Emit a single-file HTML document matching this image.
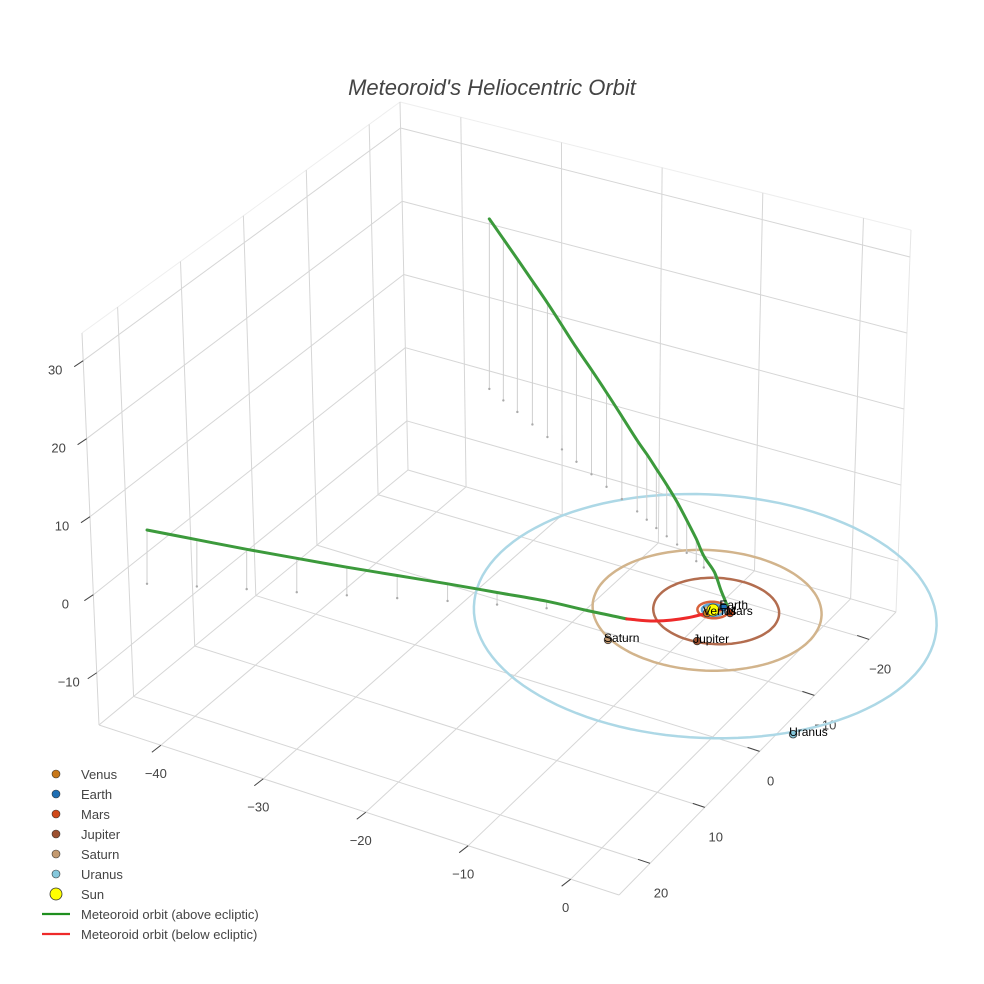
<!DOCTYPE html>
<html><head><meta charset="utf-8">
<style>
html,body{margin:0;padding:0;background:#fff;}
svg{display:block;font-family:"Liberation Sans",Arial,sans-serif;}
</style></head>
<body>
<svg id="chart" width="984" height="984" viewBox="0 0 984 984" xmlns="http://www.w3.org/2000/svg">
<rect width="984" height="984" fill="#fff"/>
<text x="492" y="95" text-anchor="middle" font-size="22" font-style="italic" fill="#444">Meteoroid's Heliocentric Orbit</text>
<g id="grid"></g>
<g id="ticks"></g>
<g id="orbits"></g>
<g id="drops"></g>
<g id="meteor"></g>
<g id="planets"></g>
<g id="legend"></g>
</svg>
<script>
// ---- data ----
const xTicks = [-40, -30, -20, -10, 0];
const yTicks = [-20, -10, 0, 10, 20];
const zTicks = [30, 20, 10, 0, -10];
const xTickLabels = ["\u221240", "\u221230", "\u221220", "\u221210", "0"];
const yTickLabels = ["\u221220", "\u221210", "0", "10", "20"];
const zTickLabels = ["30", "20", "10", "0", "\u221210"];

const planetNames = ["Venus", "Earth", "Mars", "Jupiter", "Saturn", "Uranus"];
const planetX = [-0.2, 0.53, 1.44, 1.16, -5.27, 14.9];
const planetY = [0.69, -0.85, -0.32, 5.04, 8.77, 13.9];
const planetZ = [0, 0, 0, 0, 0, 0];
const orbitRadii = [0.65, 0.92, 1.3, 5.25, 9.55, 19.3];
const orbitCenterX = [0, 0, 0, 0.3, -0.4, -0.1];
const orbitCenterY = [0, 0, 0, 0, 0.3, 1.2];

const sunX = [0], sunY = [0], sunZ = [0];

const aboveX = [-32.3, -30.45, -28.6, -26.6, -24.6, -22.65, -20.7, -18.7, -16.7, -14.7, -12.7, -11.4, -10.1, -8.75, -7.4, -6.1, -4.8, -3.8, -2.3, -0.6, 0.9];
const aboveY = [-21.2, -20.2, -19.2, -18.1, -17.0, -15.9, -14.8, -13.7, -12.6, -11.55, -10.5, -9.75, -9.0, -8.3, -7.6, -6.85, -6.1, -5.55, -4.6, -2.6, -1.0];
const aboveZ = [21.8, 20.7, 19.6, 18.4, 17.2, 15.9, 14.6, 13.4, 12.1, 10.6, 9.1, 8.4, 7.6, 6.6, 5.46, 4.2, 2.86, 1.47, 0.7, 0.4, 0];

const belowX = [0.9, -1.5, -3.5, -5.5];
const belowY = [-1.0, 1.8, 3.6, 5.0];
const belowZ = [0, -0.4, -0.4, 0];

const leftX = [-5.5, -8.75, -12.0, -15.8, -19.6, -23.4, -27.2, -31.0, -34.8, -38.55, -42.3];
const leftY = [5.0, 6.0, 7.0, 8.65, 10.3, 12.1, 13.9, 15.65, 17.4, 19.2, 21.0];
const leftZ = [0, 0.4, 0.9, 1.55, 2.2, 2.9, 3.6, 4.35, 5.1, 6.0, 6.9];

// ---- projection ----
const NS = "http://www.w3.org/2000/svg";
function P(x, y, z) { return [713 + 10.6 * x - 5.6 * y, 610 + 3.3 * x + 5.4 * y - 7.8 * z]; }
const XMIN = -46.04, XR = 50.76, YMIN = -24.9, YR = 50.56, ZMIN = -16.7, ZR = 50.25;
const fx = v => (v - XMIN) / XR, fy = v => (v - YMIN) / YR, fz = v => (v - ZMIN) / ZR;
const B = [408, 470], R = [896, 612], F = [619, 895], L = [99, 725];
const Bt = [400, 102], Rt = [911, 230], Lt = [82, 333];
const lerp = (a, b, t) => [a[0] + (b[0] - a[0]) * t, a[1] + (b[1] - a[1]) * t];

function el(tag, attrs, parent) {
  const e = document.createElementNS(NS, tag);
  for (const k in attrs) e.setAttribute(k, attrs[k]);
  parent.appendChild(e); return e;
}
function line(p, q, color, w, parent, name) {
  const e = el("line", { x1: p[0], y1: p[1], x2: q[0], y2: q[1], stroke: color, "stroke-width": w }, parent);
  
  
  return e;
}
const grid = document.getElementById("grid");
const gc = "#d6d6d6";
line(Bt, Lt, "#eeeeee", 1, grid, "box-edge");
line(Bt, Rt, "#eeeeee", 1, grid, "box-edge");
line(B, Bt, gc, 1, grid, "box-edge");
line(L, Lt, gc, 1, grid, "box-edge");
line(R, Rt, "#e6e6e6", 1, grid, "box-edge");
line(B, L, gc, 1, grid, "box-edge");
line(B, R, gc, 1, grid, "box-edge");
line(L, F, gc, 1, grid, "box-edge");
line(R, F, gc, 1, grid, "box-edge");
yTicks.forEach(v => { const t = fy(v); line(lerp(B, L, t), lerp(Bt, Lt, t), gc, 1, grid, "y-gridline"); });
zTicks.forEach(v => { const t = fz(v); line(lerp(B, Bt, t), lerp(L, Lt, t), gc, 1, grid, "z-gridline"); });
xTicks.forEach(v => { const t = fx(v); line(lerp(B, R, t), lerp(Bt, Rt, t), gc, 1, grid, "x-gridline"); });
zTicks.forEach(v => { const t = fz(v); line(lerp(B, Bt, t), lerp(R, Rt, t), gc, 1, grid, "z-gridline"); });
xTicks.forEach(v => { const t = fx(v); line(lerp(B, R, t), lerp(L, F, t), gc, 1, grid, "x-gridline"); });
yTicks.forEach(v => { const t = fy(v); line(lerp(B, L, t), lerp(R, F, t), gc, 1, grid, "y-gridline"); });

const ticks = document.getElementById("ticks");
function label(x, y, s, name) {
  const t = el("text", { x: x, y: y, "text-anchor": "middle", "font-size": 13, fill: "#444" }, ticks);
  t.textContent = s;
  
  
}
xTicks.forEach((v, i) => {
  const p = lerp(L, F, fx(v));
  line([p[0] - 9, p[1] + 7], [p[0], p[1]], "#444", 1, ticks, "x-tick");
  label(p[0] - 5, p[1] + 33, xTickLabels[i], "x-tick-label");
});
yTicks.forEach((v, i) => {
  const p = lerp(R, F, fy(v));
  line([p[0] - 12, p[1] - 4], [p[0], p[1]], "#444", 1, ticks, "y-tick");
  label(p[0] + 11, p[1] + 34, yTickLabels[i], "y-tick-label");
});
zTicks.forEach((v, i) => {
  const p = lerp(L, Lt, fz(v));
  line([p[0] - 9, p[1] + 6], [p[0], p[1]], "#444", 1, ticks, "z-tick");
  label(p[0] - 28, p[1] + 14, zTickLabels[i], "z-tick-label");
});

const orbitColors = ["#dfb56f", "#5da7d6", "#d8623c", "#b36d4f", "#d2b48c", "#add8e6"];
const orbits = document.getElementById("orbits");
orbitRadii.forEach((r, i) => {
  let d = "";
  for (let k = 0; k <= 120; k++) {
    const a = k / 120 * 2 * Math.PI;
    const p = P(orbitCenterX[i] + r * Math.cos(a), orbitCenterY[i] + r * Math.sin(a), 0);
    d += (k ? "L" : "M") + p[0].toFixed(1) + " " + p[1].toFixed(1);
  }
  const e = el("path", { d: d, fill: "none", stroke: orbitColors[i], "stroke-width": 2.5 }, orbits);
  
  
});

const drops = document.getElementById("drops");
function dropSet(xs, ys, zs) {
  xs.forEach((x, i) => {
    if (Math.abs(zs[i]) < 0.5) return;
    const a = P(x, ys[i], zs[i]), b = P(x, ys[i], 0);
    line(a, b, "#cfcfcf", 1, drops, "drop-line");
    const c = el("circle", { cx: b[0], cy: b[1], r: 1.2, fill: "#aaa" }, drops);
    
    
  });
}
dropSet(aboveX, aboveY, aboveZ);
dropSet(leftX, leftY, leftZ);

const meteor = document.getElementById("meteor");
function path(xs, ys, zs, color, name) {
  const pts = xs.map((x, i) => P(x, ys[i], zs[i]));
  let d = "M" + pts[0][0].toFixed(1) + " " + pts[0][1].toFixed(1);
  for (let i = 0; i < pts.length - 1; i++) {
    const p0 = pts[Math.max(0, i - 1)], p1 = pts[i], p2 = pts[i + 1], p3 = pts[Math.min(pts.length - 1, i + 2)];
    const c1 = [p1[0] + (p2[0] - p0[0]) / 6, p1[1] + (p2[1] - p0[1]) / 6];
    const c2 = [p2[0] - (p3[0] - p1[0]) / 6, p2[1] - (p3[1] - p1[1]) / 6];
    d += "C" + c1.map(v => v.toFixed(1)).join(" ") + " " + c2.map(v => v.toFixed(1)).join(" ") + " " + p2.map(v => v.toFixed(1)).join(" ");
  }
  const e = el("path", { d: d, fill: "none", stroke: color, "stroke-width": 3, "stroke-linejoin": "round", "stroke-linecap": "round" }, meteor);
  
  
}
path(aboveX, aboveY, aboveZ, "#3c9a3c", "meteoroid-above-upper");
path(leftX, leftY, leftZ, "#3c9a3c", "meteoroid-above-lower");
path(belowX, belowY, belowZ, "#ee2a2a", "meteoroid-below");

const planetColors = ["#c8781a", "#1f6fb4", "#d04a1a", "#9c5030", "#c49a70", "#86c8dc"];
const planets = document.getElementById("planets");
planetNames.forEach((n, i) => {
  const p = P(planetX[i], planetY[i], planetZ[i]);
  const c = el("circle", { cx: p[0], cy: p[1], r: 3.8, fill: planetColors[i], stroke: "#333", "stroke-width": 0.8 }, planets);
  
  
});
const sp = P(sunX[0], sunY[0], sunZ[0]);
const sunEl = el("circle", { cx: sp[0], cy: sp[1], r: 6, fill: "#ffff00", stroke: "#333", "stroke-width": 0.8 }, planets);


planetNames.forEach((n, i) => {
  const p = P(planetX[i], planetY[i], planetZ[i]);
  const t = el("text", { x: p[0] - 4, y: p[1] + 2, "font-size": 12, fill: "#000" }, planets);
  t.textContent = n;
  
  
});

const legend = document.getElementById("legend");
const legendItems = ["Venus", "Earth", "Mars", "Jupiter", "Saturn", "Uranus", "Sun", "Meteoroid orbit (above ecliptic)", "Meteoroid orbit (below ecliptic)"];
legendItems.forEach((n, i) => {
  const y = 774 + i * 20;
  if (i < 6) {
    const c = el("circle", { cx: 56, cy: y, r: 4, fill: planetColors[i], stroke: "#333", "stroke-width": 0.6 }, legend);
    
    
  } else if (i === 6) {
    const c = el("circle", { cx: 56, cy: y, r: 6, fill: "#ffff00", stroke: "#333", "stroke-width": 0.8 }, legend);
    
    
  } else {
    line([42, y], [70, y], i === 7 ? "#1f8f1f" : "#ee2a2a", 2.2, legend, "legend-line");
  }
  const t = el("text", { x: 81, y: y + 5, "font-size": 13, fill: "#444" }, legend);
  t.textContent = n;
  
  
});
</script>
</body></html>
